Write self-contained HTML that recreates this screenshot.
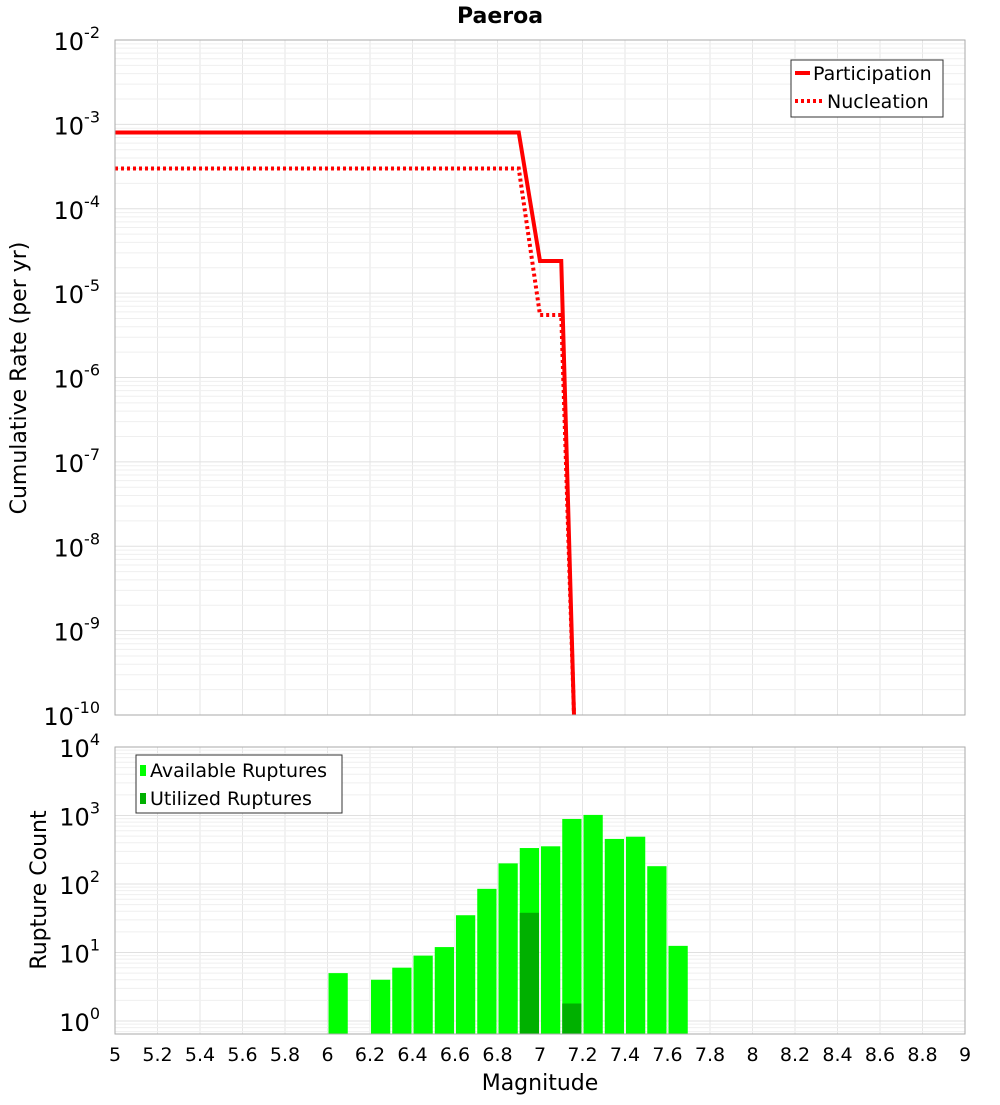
<!DOCTYPE html>
<html><head><meta charset="utf-8"><style>
body{margin:0;background:#fff;font-family:"Liberation Sans","DejaVu Sans",sans-serif}
svg text{font-family:"DejaVu Sans","Liberation Sans",sans-serif}
</style></head><body>
<svg id="c" width="1000" height="1100" xmlns="http://www.w3.org/2000/svg">
<text x="500" y="23" text-anchor="middle" font-weight="bold" font-size="22">Paeroa</text>
<text transform="translate(26,378) rotate(-90)" text-anchor="middle" font-size="22">Cumulative Rate (per yr)</text>
<text transform="translate(46,890) rotate(-90)" text-anchor="middle" font-size="22">Rupture Count</text>
<text x="540" y="1090" text-anchor="middle" font-size="22">Magnitude</text>
<g id="topg"></g><g id="botg"></g>
</svg>
<script>
const partMag=[5,6.9,7.0,7.1,7.16];
const partRate=[8e-4,8e-4,2.4e-5,2.4e-5,1e-11];
const nuclMag=[5,6.9,7.0,7.1,7.16];
const nuclRate=[3e-4,3e-4,5.5e-6,5.5e-6,1e-11];
const binMag=[6.0,6.2,6.3,6.4,6.5,6.6,6.7,6.8,6.9,7.0,7.1,7.2,7.3,7.4,7.5,7.6];
const availCount=[5,4,6,9,12,35,85,200,335,355,890,1020,455,490,182,12.5];
const usedMag=[6.9,7.1];
const usedCount=[38,1.8];
const xTicks=[5,5.2,5.4,5.6,5.8,6,6.2,6.4,6.6,6.8,7,7.2,7.4,7.6,7.8,8,8.2,8.4,8.6,8.8,9];
const topExp=[-2,-3,-4,-5,-6,-7,-8,-9,-10];
const botExp=[4,3,2,1,0];
const NS="http://www.w3.org/2000/svg";
const L=115,R=965;
const X=m=>L+(m-5)/4*(R-L);
const TT=40,TB=715;
const YT=v=>TT+(-2-Math.log10(v))/8*(TB-TT);
const BT=747,BB=1034,B0=1021,BD=68.5;
const YB=v=>B0-Math.log10(v)*BD;
function el(tag,at,par){const e=document.createElementNS(NS,tag);for(const k in at)e.setAttribute(k,at[k]);par.appendChild(e);return e;}
const topG=document.getElementById('topg'),botG=document.getElementById('botg');
function grid(par,y0,y1,yfn,eMin,eMax){
 for(let i=0;i<=20;i++){const m=5+i*0.2;el('line',{x1:X(m),x2:X(m),y1:y0,y2:y1,stroke:'#e6e6e6'},par);}
 for(let e=eMin;e<eMax;e++)for(let k=1;k<10;k++){const y=yfn(k*Math.pow(10,e));if(y>=y0&&y<=y1)el('line',{x1:L,x2:R,y1:y,y2:y,stroke:k==1?'#e0e0e0':'#efefef'},par);}
}
grid(topG,TT,TB,YT,-10,-2);
grid(botG,BT,BB,YB,-1,4);
function pline(ms,vs,dash,name){
 let d='';ms.forEach((m,i)=>{let y=Math.min(YT(vs[i]),TB);d+=(i?'L':'M')+X(m)+','+y;});
 const p=el('path',{d:d,fill:'none',stroke:'#ff0000','stroke-width':4},topG);
 if(dash)p.setAttribute('stroke-dasharray','3,3');
 
 
}
pline(partMag,partRate,false,'participation-line');
pline(nuclMag,nuclRate,true,'nucleation-line');
el('rect',{x:L,y:TT,width:R-L,height:TB-TT,fill:'none',stroke:'#aaa'},topG);
topExp.forEach(e=>{const t=el('text',{x:100,y:YT(Math.pow(10,e))+10,'text-anchor':'end','font-size':24},topG);
 
 
 t.innerHTML='10<tspan dy="-12" font-size="16">'+e+'</tspan>';});
const bw=(X(5.1)-X(5))-2;
binMag.forEach((m,i)=>{const y=YB(availCount[i]);const r=el('rect',{x:X(m)+1,y:y,width:bw,height:BB-y,fill:'#00ff00'},botG);
 
 });
usedMag.forEach((m,i)=>{const y=YB(usedCount[i]);const r=el('rect',{x:X(m)+1,y:y,width:bw,height:BB-y,fill:'#00b000'},botG);
 
 });
el('rect',{x:L,y:BT,width:R-L,height:BB-BT,fill:'none',stroke:'#aaa'},botG);
botExp.forEach(e=>{const t=el('text',{x:100,y:YB(Math.pow(10,e))+10,'text-anchor':'end','font-size':24},botG);
 
 
 t.innerHTML='10<tspan dy="-12" font-size="16">'+e+'</tspan>';});
xTicks.forEach(m=>{const t=el('text',{x:X(m),y:1061,'text-anchor':'middle','font-size':19},botG);
 
 
 t.textContent=m;});
</script>
<svg style="position:absolute;left:0;top:0" width="1000" height="1100" xmlns="http://www.w3.org/2000/svg">
<g>
<rect x="791" y="60" width="152" height="57" fill="#fff" stroke="#333"/>
<line x1="795" y1="73" x2="810" y2="73" stroke="#f00" stroke-width="4"/>
<text x="813" y="80" font-size="19">Participation</text>
<line x1="795" y1="101" x2="822" y2="101" stroke="#f00" stroke-width="4" stroke-dasharray="3,3"/>
<text x="827" y="108" font-size="19">Nucleation</text>
</g>
<g>
<rect x="136" y="755" width="206" height="58" fill="#fff" stroke="#333"/>
<rect x="140" y="765" width="6" height="11" fill="#00ff00"/>
<text x="150" y="777" font-size="19">Available Ruptures</text>
<rect x="140" y="793" width="6" height="11" fill="#00b000"/>
<text x="150" y="805" font-size="19">Utilized Ruptures</text>
</g>
</svg>
</body></html>
